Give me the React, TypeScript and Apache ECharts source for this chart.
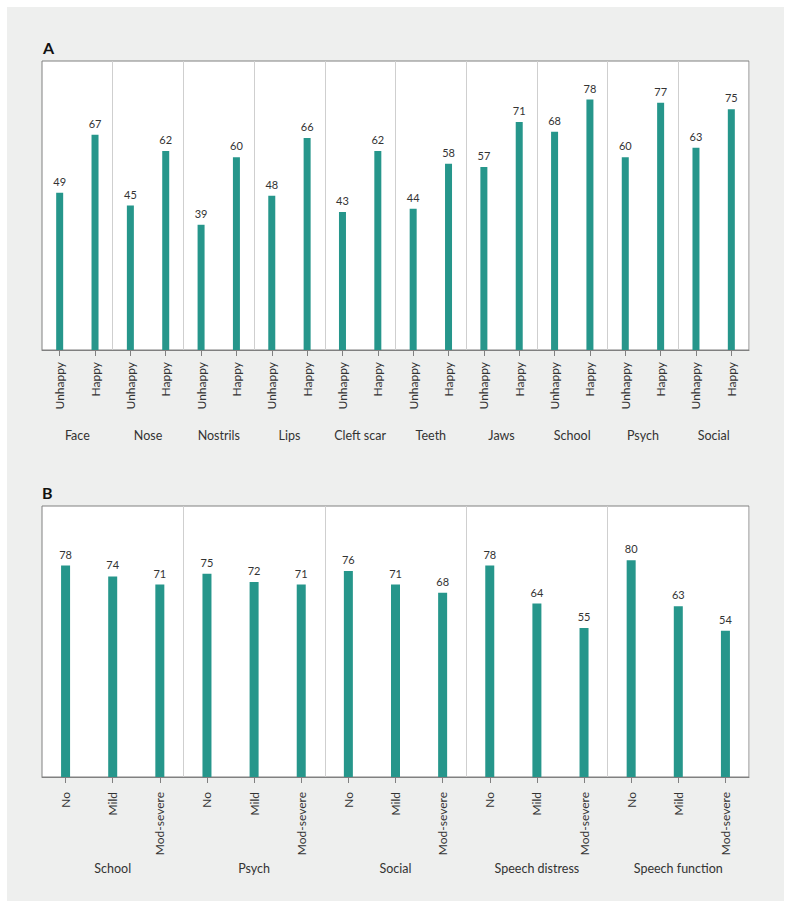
import React, { useEffect, useRef } from "react";
import * as echarts from "echarts";

const groupsA = ["Face", "Nose", "Nostrils", "Lips", "Cleft scar", "Teeth", "Jaws", "School", "Psych", "Social"];
const levelsA = ["Unhappy", "Happy"];
const unhappyA = [49, 45, 39, 48, 43, 44, 57, 68, 60, 63];
const happyA = [67, 62, 60, 66, 62, 58, 71, 78, 77, 75];

const groupsB = ["School", "Psych", "Social", "Speech distress", "Speech function"];
const levelsB = ["No", "Mild", "Mod-severe"];
const noB = [78, 75, 76, 78, 80];
const mildB = [74, 72, 71, 64, 63];
const modSevereB = [71, 71, 68, 55, 54];

const FONT = "Lato";
const TEAL = "#26968b";
const TEXT = "#333333";

export default function App() {
  const ref = useRef<HTMLDivElement>(null);

  useEffect(() => {
    if (!ref.current) return;
    const chart = echarts.init(ref.current, undefined, { renderer: "svg" });

    const catsA: string[] = [];
    const valsA: number[] = [];
    groupsA.forEach((_, i) => {
      catsA.push(levelsA[0], levelsA[1]);
      valsA.push(unhappyA[i], happyA[i]);
    });
    const catsB: string[] = [];
    const valsB: number[] = [];
    groupsB.forEach((_, i) => {
      catsB.push(levelsB[0], levelsB[1], levelsB[2]);
      valsB.push(noB[i], mildB[i], modSevereB[i]);
    });

    const gridCommon = {
      left: 42,
      width: 707,
      show: true,
      backgroundColor: "#ffffff",
      borderColor: "#808080",
      borderWidth: 1,
      containLabel: false,
    };

    const catAxis = (gridIndex: number, data: string[], margin: number) => ({
      type: "category" as const,
      gridIndex,
      data,
      position: "bottom" as const,
      axisLine: { show: true, lineStyle: { color: "#808080", width: 1 } },
      axisTick: { show: true, alignWithLabel: true, length: 6, lineStyle: { color: "#808080" } },
      axisLabel: {
        rotate: 90,
        interval: 0,
        margin,
        fontFamily: FONT,
        fontSize: 12,
        color: TEXT,
      },
      splitLine: { show: false },
    });

    const groupAxis = (gridIndex: number, data: string[], margin: number) => ({
      type: "category" as const,
      gridIndex,
      data,
      position: "bottom" as const,
      axisLine: { show: false },
      axisTick: { show: false },
      axisLabel: {
        interval: 0,
        margin,
        fontFamily: FONT,
        fontSize: 12.5,
        color: TEXT,
        verticalAlign: "top" as const,
      },
      splitLine: {
        show: true,
        interval: (i: number) => i > 0 && i < data.length,
        lineStyle: { color: "#cfcfcf", width: 1 },
      },
    });

    const labelStyle = {
      show: true,
      position: "top" as const,
      distance: 6,
      fontFamily: FONT,
      fontSize: 11,
      color: TEXT,
    };

    chart.setOption({
      animation: false,
      backgroundColor: "transparent",
      graphic: [
        {
          type: "rect",
          shape: { x: 7, y: 7, width: 777, height: 894 },
          style: { fill: "#eeefee" },
          z: -10,
          silent: true,
        },
        {
          type: "text",
          x: 43,
          y: 47,
          style: { text: "A", fontFamily: FONT, fontSize: 16, fontWeight: "bold", fill: "#111", verticalAlign: "middle" },
        },
        {
          type: "text",
          x: 42,
          y: 492,
          style: { text: "B", fontFamily: FONT, fontSize: 16, fontWeight: "bold", fill: "#111", verticalAlign: "middle" },
        },
      ],
      grid: [
        { ...gridCommon, top: 61, height: 289 },
        { ...gridCommon, top: 506, height: 271 },
      ],
      xAxis: [
        catAxis(0, catsA, 12),
        groupAxis(0, groupsA, 79),
        catAxis(1, catsB, 15),
        groupAxis(1, groupsB, 85),
      ],
      yAxis: [
        { type: "value", gridIndex: 0, min: 0, max: 90, show: false, splitLine: { show: false } },
        { type: "value", gridIndex: 1, min: 0, max: 100, show: false, splitLine: { show: false } },
      ],
      series: [
        {
          type: "bar",
          xAxisIndex: 0,
          yAxisIndex: 0,
          data: valsA,
          barWidth: 7,
          itemStyle: { color: TEAL },
          label: labelStyle,
        },
        {
          type: "bar",
          xAxisIndex: 2,
          yAxisIndex: 1,
          data: valsB,
          barWidth: 9,
          itemStyle: { color: TEAL },
          label: labelStyle,
        },
      ],
    });

    return () => chart.dispose();
  }, []);

  return (
    <div
      ref={ref}
      style={{ position: "absolute", left: 0, top: 0, width: 791, height: 909 }}
    />
  );
}
